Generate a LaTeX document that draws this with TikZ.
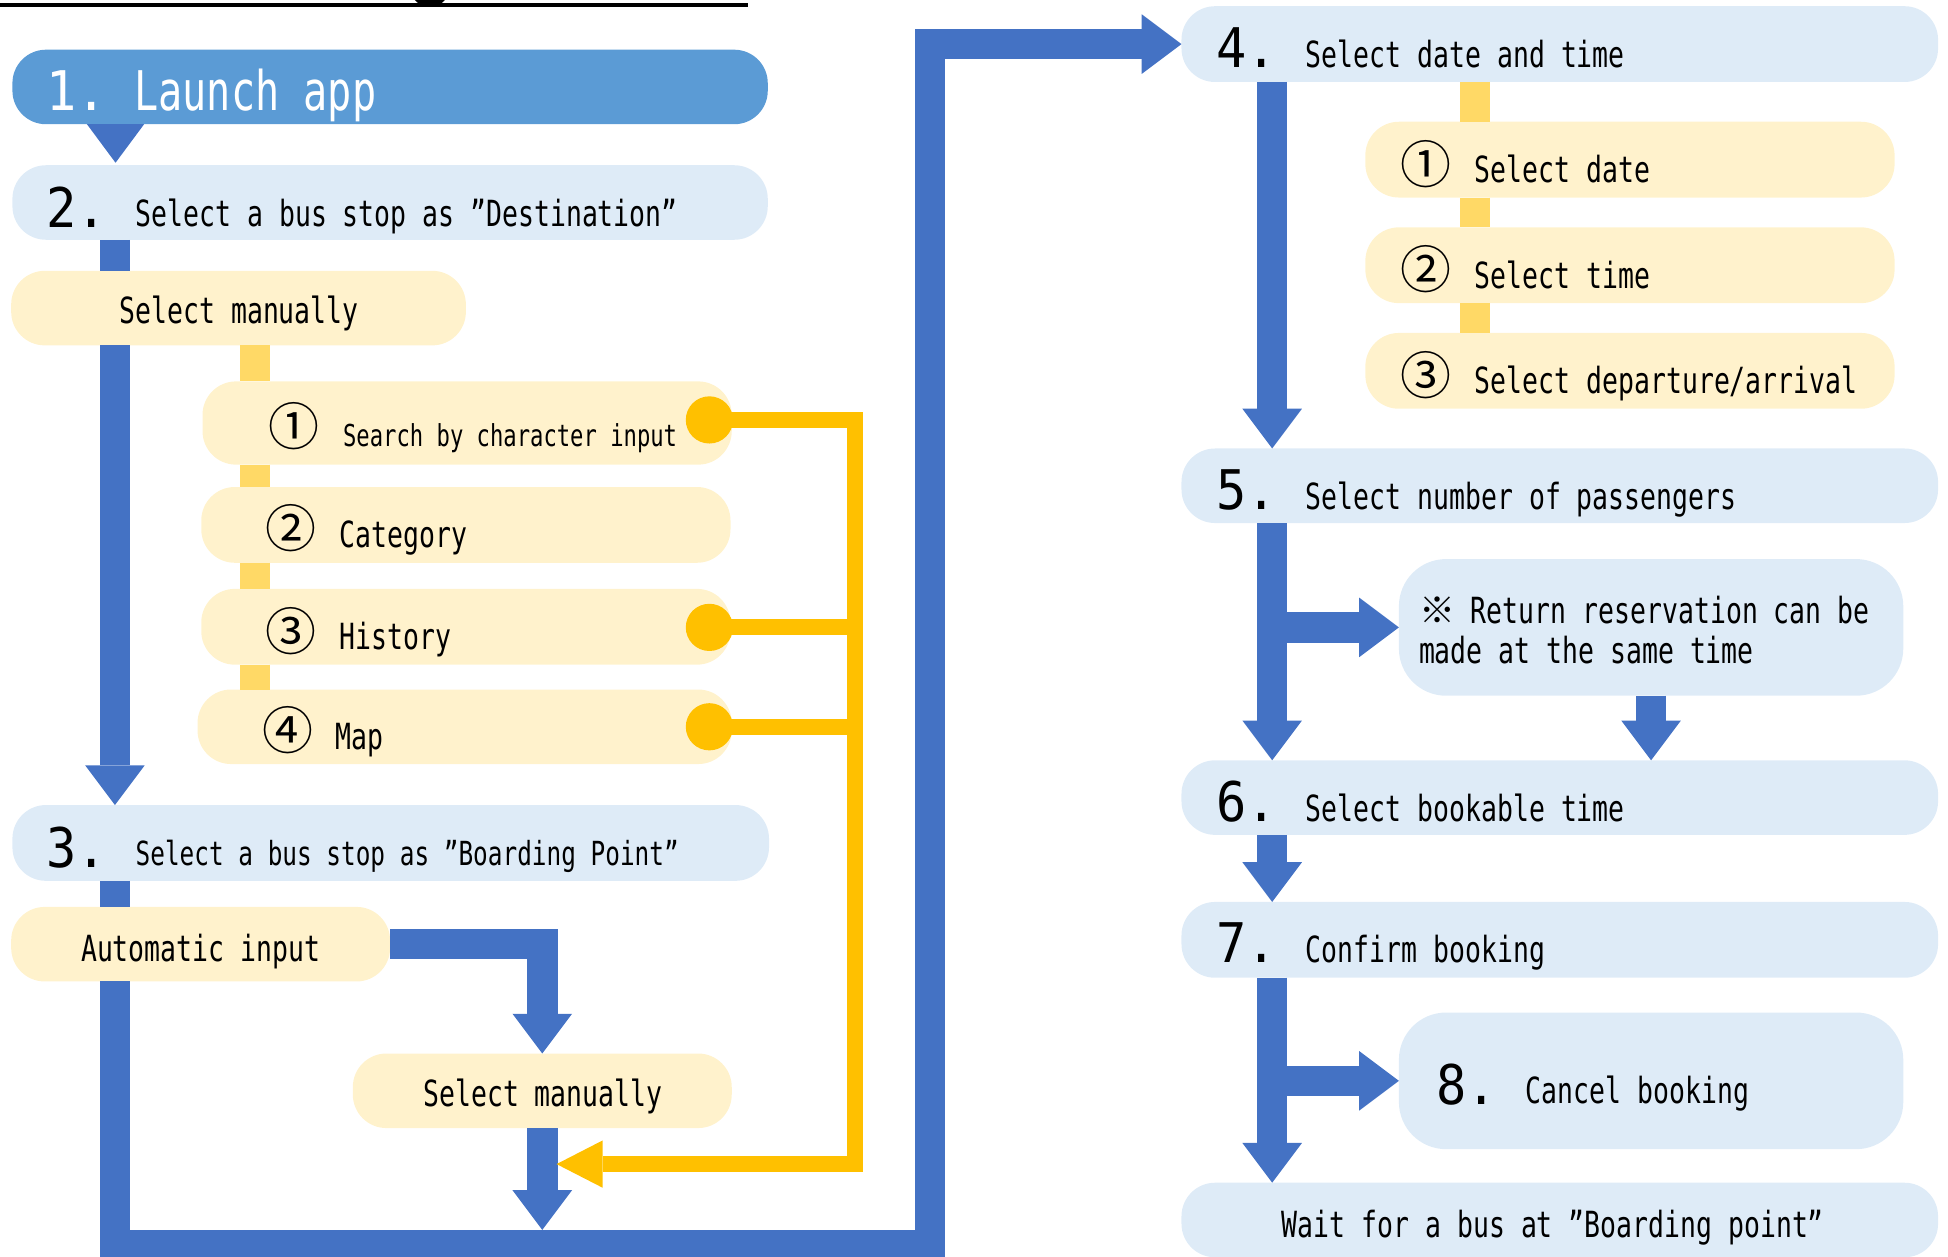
\documentclass[tikz,border=0pt]{standalone}
\usepackage{fontspec}
\setmainfont{DejaVu Sans Mono}[FakeStretch=0.735]
\newfontfamily\digf{DejaVu Sans Mono}[FakeStretch=0.92]
\newfontfamily\cjk{Noto Sans CJK JP}
\usetikzlibrary{arrows.meta}
\newcommand\fnorm{\fontsize{29pt}{32pt}\selectfont}
\newcommand\fmid{\fontsize{26.7pt}{30pt}\selectfont}
\newcommand\fbig{\fontsize{44pt}{48pt}\selectfont}
\newcommand\fdig{\digf\fontsize{44pt}{48pt}\selectfont}
\newcommand\fsmall{\fontsize{24.3pt}{28pt}\selectfont}
\newcommand\fcirc{\cjk\fontsize{41pt}{44pt}\selectfont}
\definecolor{blueA}{HTML}{4472C4}
\definecolor{blueL}{HTML}{5B9BD5}
\definecolor{paleB}{HTML}{DEEBF7}
\definecolor{paleY}{HTML}{FFF2CC}
\definecolor{yelbar}{HTML}{FFD966}
\definecolor{orng}{HTML}{FFC000}
\tikzset{
  box/.style={rectangle, rounded corners=27pt, minimum height=60pt, inner sep=0pt, outer sep=0pt, anchor=north west, draw=none},
  pb/.style={box, fill=paleB},
  py/.style={box, fill=paleY},
  bigbox/.style={box, rounded corners=38pt, fill=paleB},
  txt/.style={anchor=base west, inner sep=0pt, font=\fnorm},
  ctxt/.style={anchor=base, inner sep=0pt, font=\fnorm},
  dig/.style={anchor=base west, inner sep=0pt, font=\fdig},
  circ/.style={anchor=center, inner sep=0pt, font=\fcirc},
  bar/.style={draw=blueA, line width=24.5pt},
  barr/.style={bar, -{Triangle[length=32pt, width=48pt, line width=0pt]}},
  ybar/.style={draw=yelbar, line width=24pt},
  yline/.style={draw=orng, line width=13pt},
  yarr/.style={yline, -{Triangle[length=37pt, width=38pt, line width=0pt]}},
  ydot/.style={circle, fill=orng, minimum size=38pt, inner sep=0pt, draw=none},
}
\begin{document}
\begin{tikzpicture}[x=1pt, y=-1pt]
\useasboundingbox (0,0) rectangle (1568,1011);
% column guides
\coordinate (cL) at (92.5,0);
\coordinate (cR) at (1024,0);
\coordinate (cY) at (205,0);
\coordinate (cY2) at (1187.5,0);
% title underline
\draw[line width=3.2pt] (0,4.3) -- (602,4.3);
\fill (334,0) .. controls (337,6) and (355,6) .. (358,0) -- cycle;

% boxes
\node[box, fill=blueL, minimum width=608pt] (launch) at (10,40) {};
\node[pb, minimum width=608pt] (b2) at (10,133) {};
\node[py, minimum width=366pt] (sm1) at (9,218) {};
\node[pb, minimum width=609pt, minimum height=61pt] (b3) at (10,648) {};
\node[py, minimum width=305pt] (auto) at (9,730) {};
\node[py, minimum width=305pt] (sm2) at (284,848) {};

\node[pb, minimum width=609pt, minimum height=61pt] (b4) at (951,5) {};
\node[pb, minimum width=609pt] (b5) at (951,361) {};
\node[bigbox, minimum width=406pt, minimum height=110pt] (note) at (1126,450) {};
\node[pb, minimum width=609pt] (b6) at (951,612) {};
\node[pb, minimum width=609pt, minimum height=61pt] (b7) at (951,726) {};
\node[bigbox, minimum width=406pt, minimum height=110pt] (b8) at (1126,815) {};
\node[pb, minimum width=609pt] (wait) at (951,952) {};

% sub boxes
\node[py, minimum width=426pt, minimum height=67pt] (c1) at (163,307) {};
\node[py, minimum width=426pt, minimum height=61pt] (c2) at (162,392) {};
\node[py, minimum width=426pt, minimum height=61pt] (c3) at (162,474) {};
\node[py, minimum width=430pt] (c4) at (159,555) {};

\node[py, minimum width=426pt, minimum height=61pt] (d1) at (1099,98) {};
\node[py, minimum width=426pt, minimum height=61pt] (d2) at (1099,183) {};
\node[py, minimum width=426pt, minimum height=61pt] (d3) at (1099,268) {};

% yellow connector bars
\draw[ybar] (sm1.south -| cY) -- (c1.north -| cY);
\draw[ybar] (c1.south -| cY) -- (c2.north -| cY);
\draw[ybar] (c2.south -| cY) -- (c3.north -| cY);
\draw[ybar] (c3.south -| cY) -- (c4.north -| cY);
\draw[ybar] (b4.south -| cY2) -- (d1.north -| cY2);
\draw[ybar] (d1.south -| cY2) -- (d2.north -| cY2);
\draw[ybar] (d2.south -| cY2) -- (d3.north -| cY2);

% texts
\node[dig, text=white] (t1n) at (37,89) {1.};
\node[txt, font=\fbig, text=white] (t1) at (108,89) {Launch app};
\node[dig] (t2n) at (37,183) {2.};
\node[txt] (t2) at (109,182) {Select a bus stop as ”Destination”};
\node[ctxt] (tsm1) at (192.5,260) {Select manually};
\node[circ] (k1) at (236.5,343) {①};
\node[txt, font=\fsmall] (tc1) at (276,359) {Search by character input};
\node[circ] (k2) at (234.5,425.5) {②};
\node[txt] (tc2) at (273,441) {Category};
\node[circ] (k3) at (234.5,508) {③};
\node[txt] (tc3) at (273,523) {History};
\node[circ] (k4) at (232,588) {④};
\node[txt] (tc4) at (270,603) {Map};
\node[dig] (t3n) at (37,698) {3.};
\node[txt, font=\fmid] (t3) at (109,697) {Select a bus stop as ”Boarding Point”};
\node[ctxt] (tauto) at (161.5,774) {Automatic input};
\node[ctxt] (tsm2) at (437,891) {Select manually};

\node[dig] (t4n) at (979,54) {4.};
\node[txt] (t4) at (1051,54) {Select date and time};
\node[circ] (kd1) at (1148,132) {①};
\node[txt] (td1) at (1187,147) {Select date};
\node[circ] (kd2) at (1148,217) {②};
\node[txt] (td2) at (1187,232) {Select time};
\node[circ] (kd3) at (1148,302) {③};
\node[txt] (td3) at (1187,317) {Select departure/arrival};
\node[dig] (t5n) at (979,410) {5.};
\node[txt] (t5) at (1051,410) {Select number of passengers};
\node[txt] (tn1) at (1142,502) {{\cjk ※} Return reservation can be};
\node[txt] (tn2) at (1142,534) {made at the same time};
\node[dig] (t6n) at (979,661) {6.};
\node[txt] (t6) at (1051,661) {Select bookable time};
\node[dig] (t7n) at (979,775) {7.};
\node[txt] (t7) at (1051,775) {Confirm booking};
\node[dig] (t8n) at (1156,889) {8.};
\node[txt] (t8) at (1228,888) {Cancel booking};
\node[ctxt] (tw) at (1250,996) {Wait for a bus at ”Boarding point”};

% blue connectors, left column
\fill[blueA] (70,100) -- (116,100) -- (93,131) -- cycle;
\draw[bar] (b2.south -| cL) -- (sm1.north -| cL);
\draw[barr] (sm1.south -| cL) -- (b3.north -| cL);
\draw[bar] (b3.south -| cL) -- (auto.north -| cL);
\draw[barr] (auto.east) -| (sm2.north);
\coordinate (sm2end) at (436.5,990);
\draw[barr] (sm2.south) -- (sm2end);
\coordinate (loopBR) at (748.5,1002);
\draw[barr] (auto.south -| cL) |- (loopBR) |- (b4.west);

% blue connectors, right column
\draw[barr] (b4.south -| cR) -- (b5.north -| cR);
\draw[barr] (b5.south -| cR) -- (b6.north -| cR);
\draw[barr] (cR |- note.west) -- (note.west);
\draw[barr] (note.south) -- (note.south |- b6.north);
\draw[barr] (b6.south -| cR) -- (b7.north -| cR);
\draw[barr] (b7.south -| cR) -- (wait.north -| cR);
\draw[barr] (cR |- b8.west) -- (b8.west);

% orange selection lines
\node[ydot] (dot1) at (571,338) {};
\node[ydot] (dot3) at (571,505) {};
\node[ydot] (dot4) at (571,585) {};
\coordinate (ybot) at (688,937);
\coordinate (ytip) at (448,937);
\draw[yarr] (dot1.center) -| (ybot) -- (ytip);
\draw[yline] (dot3.center) -- (dot3 -| ybot);
\draw[yline] (dot4.center) -- (dot4 -| ybot);
\end{tikzpicture}
\end{document}
